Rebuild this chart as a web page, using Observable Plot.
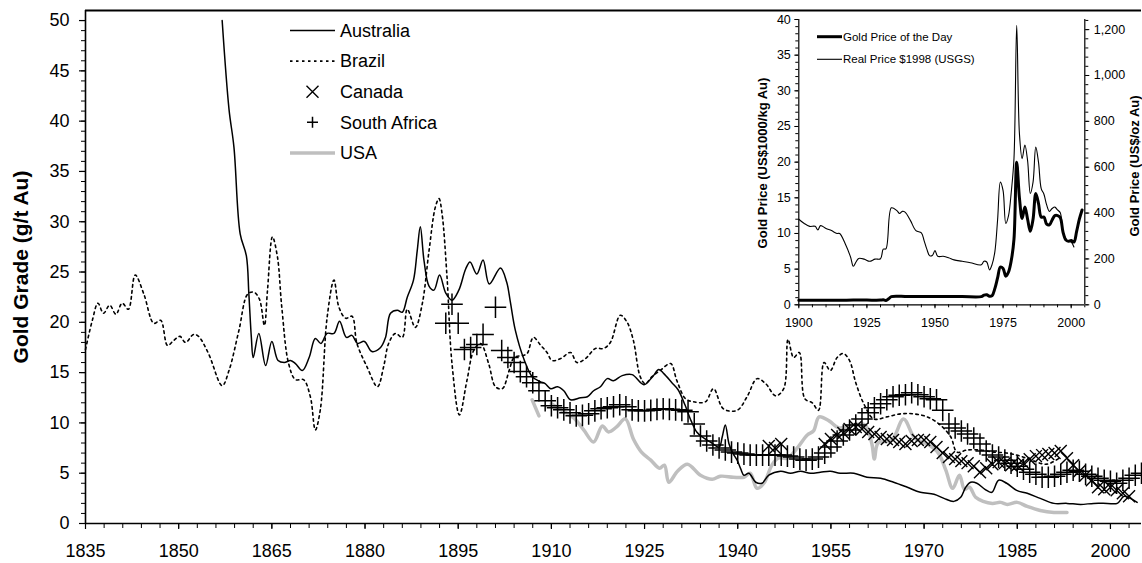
<!DOCTYPE html>
<html><head><meta charset="utf-8">
<script src="https://cdn.jsdelivr.net/npm/d3@7"></script>
<script src="https://cdn.jsdelivr.net/npm/@observablehq/plot@0.6"></script>
<style>
body{margin:0;background:#fff;}
#wrap{position:relative;width:1142px;height:563px;font-family:"Liberation Sans",Arial,sans-serif;color:#000;}
#wrap > svg{position:absolute;}
</style></head><body><div id="wrap"></div>
<script>
// ---- Main chart data: [year, gold grade g/t Au] ----
const australia = [[1857.0,50],[1858.1,41.2],[1858.9,37.4],[1859.9,28.8],[1860.9,26.6],[1861.3,22.8],[1861.7,18.5],[1862.0,16.5],[1862.9,18.9],[1864.0,15.7],[1865.0,18.1],[1866.0,16.2],[1867.0,16.0],[1868.0,16.2],[1868.8,15.9],[1869.9,15.2],[1871.0,16.5],[1872.0,18.4],[1872.9,17.9],[1873.9,18.9],[1875.0,18.9],[1875.9,20.1],[1877.0,18.5],[1877.9,18.7],[1878.8,17.9],[1879.9,18.1],[1881.1,17.1],[1882.5,17.5],[1883.3,18.5],[1884.1,20.9],[1885.2,21.2],[1886.0,21.0],[1886.8,22.5],[1887.8,24.2],[1888.4,27.1],[1888.9,29.5],[1889.5,26.1],[1890.3,23.6],[1891.1,23.2],[1892.0,24.7],[1893.0,22.9],[1894.0,22.2],[1895.1,23.2],[1896.2,25.3],[1896.9,26.0],[1898.0,24.8],[1899.0,26.2],[1900.0,23.8],[1901.8,25.4],[1902.8,24.0],[1903.4,22.0],[1904.2,19.2],[1905.6,16.3],[1906.9,14.6],[1908.2,14.1],[1909.0,13.9],[1909.9,13.4],[1911.0,13.6],[1912.0,13.2],[1913.1,12.3],[1914.7,12.5],[1915.8,12.6],[1916.8,13.2],[1917.9,13.6],[1919.0,14.4],[1920.0,14.2],[1921.4,14.7],[1923.0,14.8],[1924.9,13.8],[1926.3,14.6],[1927.3,15.3],[1928.1,14.9],[1929.4,14.0],[1930.4,13.3],[1931.5,11.8],[1932.5,10.2],[1933.4,9.1],[1934.3,8.6],[1935.6,8.1],[1937.0,7.6],[1937.5,8.6],[1938.0,9.8],[1938.6,7.9],[1939.2,7.0],[1939.9,6.3],[1940.5,5.4],[1941.0,4.8],[1941.8,5.0],[1942.9,4.1],[1943.9,4.0],[1945.0,4.8],[1946.9,5.2],[1948.5,5.0],[1950.1,5.2],[1951.7,5.0],[1953.3,5.1],[1954.9,5.2],[1956.5,5.0],[1958.7,5.0],[1960.8,4.6],[1963.0,4.5],[1965.1,4.1],[1967.3,3.6],[1969.4,3.1],[1971.6,2.9],[1973.2,2.5],[1974.8,2.2],[1975.9,2.6],[1976.7,3.6],[1977.5,4.1],[1978.5,4.0],[1979.8,3.4],[1980.9,3.1],[1982.0,4.3],[1983.3,4.0],[1984.9,3.3],[1986.6,3.0],[1988.7,2.5],[1990.9,2.0],[1993.0,2.0],[1995.2,1.9],[1997.3,2.0],[1999.5,2.0],[2001.1,2.0],[2002.2,2.7],[2003.2,2.5],[2004.3,2.1]];

const brazil = [[1835.0,17.3],[1836.1,20.2],[1837.0,21.9],[1837.9,20.9],[1838.9,21.7],[1839.9,20.8],[1840.9,21.9],[1841.9,21.3],[1843.0,24.7],[1844.4,22.8],[1846.0,19.9],[1847.1,20.2],[1848.2,17.7],[1849.2,18.2],[1850.2,18.6],[1851.1,18.0],[1852.4,18.8],[1853.2,18.6],[1854.8,16.9],[1857.0,13.7],[1858.1,15.2],[1859.7,19.2],[1861.1,22.8],[1862.1,23.0],[1863.0,22.3],[1863.8,19.7],[1864.3,23.2],[1865.1,28.5],[1865.9,26.5],[1866.6,21.5],[1867.7,15.9],[1868.8,14.3],[1870.1,14.3],[1871.2,12.6],[1872.0,9.3],[1872.8,11.3],[1873.9,20.5],[1875.0,24.2],[1875.8,21.5],[1876.9,20.4],[1877.9,20.6],[1878.7,17.9],[1880.3,15.6],[1882.0,13.6],[1883.0,15.6],[1883.8,17.9],[1884.9,18.9],[1886.0,18.5],[1886.8,21.3],[1888.1,19.5],[1889.2,21.8],[1890.3,27.1],[1891.3,31.4],[1891.9,32.3],[1892.4,30.8],[1893.2,24.5],[1894.0,15.9],[1895.2,10.8],[1896.4,14.2],[1897.5,17.2],[1898.6,17.9],[1899.9,15.9],[1901.0,13.6],[1902.1,13.4],[1903.2,15.2],[1904.0,16.5],[1905.4,16.7],[1906.1,16.9],[1907.1,18.5],[1908.3,17.7],[1909.3,17.0],[1910.1,16.2],[1911.5,16.4],[1913.1,17.0],[1914.1,16.0],[1915.5,16.4],[1917.1,17.4],[1918.4,17.4],[1919.5,18.0],[1921.1,20.7],[1922.2,20.0],[1923.2,18.2],[1924.3,14.6],[1925.1,13.9],[1926.2,14.6],[1927.5,15.2],[1929.2,15.9],[1930.2,14.2],[1931.6,12.4],[1932.9,12.1],[1934.8,12.1],[1936.1,13.4],[1937.7,11.4],[1939.9,11.25],[1941.5,12.6],[1943.1,14.4],[1944.5,13.9],[1946.1,12.7],[1947.4,13.4],[1948.1,18.3],[1949.0,16.5],[1949.9,17.0],[1950.8,12.4],[1952.0,12.0],[1953.0,11.25],[1953.9,16.0],[1954.9,15.2],[1956.0,16.5],[1957.0,16.9],[1958.0,16.2],[1959.0,14.0],[1960.3,11.9],[1961.9,10.4],[1964.0,10.6],[1966.2,10.9],[1968.3,10.9],[1970.5,10.6],[1972.6,9.8],[1974.3,8.6],[1975.3,7.1],[1976.9,7.3],[1979.1,7.3],[1981.2,7.1],[1983.4,7.0],[1985.5,6.7],[1987.7,6.2],[1989.8,5.9],[1992.0,6.6]];

const canada = [[1945,7.7],[1946,7.5],[1947,7.9],[1954,7.9],[1955,8.4],[1956,8.8],[1957,9.0],[1958,9.4],[1959,9.6],[1960,9.4],[1961,9.1],[1962,8.9],[1963,8.6],[1964,8.4],[1965,8.3],[1966,8.1],[1967,7.9],[1968,8.2],[1969,8.3],[1970,8.3],[1971,8.1],[1972,7.6],[1973,7.0],[1974,6.6],[1975,6.4],[1976,6.2],[1977,6.0],[1978,5.7],[1979,5.1],[1980,5.5],[1981,5.9],[1982,6.1],[1983,6.0],[1984,5.8],[1985,5.8],[1986,6.0],[1987,6.4],[1988,6.7],[1989,6.8],[1990,6.9],[1991,7.0],[1992,7.2],[1993,6.5],[1994,5.8],[1995,5.2],[1996,4.8],[1997,4.3],[1998,3.6],[1999,3.4],[2000,3.6],[2001,3.3],[2002,3.0],[2003,2.7]];

const southAfrica = [[1893,19.9],[1894,21.8],[1895,19.9],[1896,17.3],[1897,17.5],[1898,17.8],[1899,18.8],[1901,21.5],[1902,17.2],[1903,16.5],[1904,16.0],[1905,15.1],[1906,14.6],[1907,14.0],[1908,13.2],[1909,12.2],[1910,11.7],[1911,11.5],[1912,11.3],[1913,11.0],[1914,10.7],[1915,10.75],[1916,10.9],[1917,11.2],[1918,11.4],[1919,11.5],[1920,11.6],[1921,11.8],[1922,11.6],[1923,11.3],[1924,11.2],[1925,11.2],[1926,11.25],[1927,11.35],[1928,11.4],[1929,11.35],[1930,11.3],[1931,11.25],[1932,11.1],[1933,9.9],[1934,8.7],[1935,8.2],[1936,7.8],[1937,7.5],[1938,7.3],[1939,7.1],[1940,7.0],[1941,6.9],[1942,6.8],[1943,6.8],[1944,6.8],[1945,6.8],[1946,6.8],[1947,6.8],[1948,6.7],[1949,6.6],[1950,6.4],[1951,6.3],[1952,6.4],[1953,6.6],[1954,7.0],[1955,7.6],[1956,8.2],[1957,8.8],[1958,9.3],[1959,9.8],[1960,10.4],[1961,11.0],[1962,11.5],[1963,11.9],[1964,12.3],[1965,12.6],[1966,12.75],[1967,12.8],[1968,13.0],[1969,12.8],[1970,12.6],[1971,12.4],[1972,12.3],[1973,11.25],[1974,9.9],[1975,9.5],[1976,9.2],[1977,8.9],[1978,8.5],[1979,7.9],[1980,7.2],[1981,6.8],[1982,6.6],[1983,6.3],[1984,6.0],[1985,5.7],[1986,5.4],[1987,5.1],[1988,4.9],[1989,4.6],[1990,4.6],[1991,4.7],[1992,4.9],[1993,5.1],[1994,5.3],[1995,5.2],[1996,4.9],[1997,4.7],[1998,4.5],[1999,4.3],[2000,4.2],[2001,4.0],[2002,4.3],[2003,4.5],[2004,4.8],[2005,5.0]];

const usa = [[1906.9,12.3],[1908.0,10.7],[1909.0,NaN],[1910.0,11.9],[1911.5,11.3],[1913.6,10.5],[1915.2,9.3],[1916.8,8.1],[1918.2,9.7],[1919.2,9.1],[1920.5,9.6],[1921.9,10.4],[1923.2,8.4],[1924.5,7.1],[1926.0,6.3],[1927.4,5.5],[1928.2,5.8],[1928.9,4.1],[1930.3,5.2],[1931.9,5.9],[1934.0,4.8],[1935.9,4.4],[1937.2,4.7],[1939.3,4.6],[1941.0,4.6],[1942.0,5.0],[1943.1,3.5],[1944.2,4.0],[1945.5,5.8],[1946.5,6.5],[1948.0,6.5],[1949.7,7.6],[1951.2,8.8],[1952.2,9.2],[1953.1,10.6],[1954.7,10.2],[1956.3,9.5],[1958.5,9.8],[1960.5,9.8],[1961.6,7.9],[1962.0,6.4],[1962.6,8.0],[1964.8,8.3],[1966.7,10.4],[1968.5,8.5],[1970.8,7.8],[1972.3,7.0],[1973.5,5.3],[1974.6,3.5],[1975.7,4.8],[1976.5,3.4],[1977.3,3.6],[1978.3,2.6],[1979.5,2.2],[1981.0,2.0],[1982.3,2.1],[1983.4,1.9],[1985.0,2.1],[1986.6,1.7],[1988.7,1.3],[1990.9,1.1],[1993.0,1.1]];

const gradeTicks = [0,5,10,15,20,25,30,35,40,45,50];
const yearTicks = [1835,1850,1865,1880,1895,1910,1925,1940,1955,1970,1985,2000];

// ---- Inset data: [year, US$1000/kg Au] ----
const priceOfDay = [[1900,0.65],[1905,0.65],[1910,0.65],[1915,0.65],[1920,0.66],[1925,0.66],[1930,0.66],[1931,0.7],[1932,0.6],[1933,0.85],[1934,1.15],[1940,1.15],[1950,1.15],[1960,1.15],[1967,1.15],[1968,1.35],[1969,1.4],[1970,1.2],[1971,1.3],[1972,2.3],[1973,3.8],[1974,5.3],[1975,5.1],[1976,4.0],[1977,4.6],[1978,6.2],[1979,9.2],[1980,20.0],[1981,15.0],[1982,12.1],[1983,13.7],[1984,12.0],[1985,10.3],[1986,12.0],[1987,15.6],[1988,14.2],[1989,12.3],[1990,12.3],[1991,11.3],[1992,11.2],[1993,11.9],[1994,12.5],[1995,12.5],[1996,12.2],[1997,10.2],[1998,9.1],[1999,8.9],[2000,9.0],[2001,8.8],[2002,10.3],[2003,12.0],[2004,13.3]];
const realPrice1998 = [[1900,12.0],[1902,11.4],[1904,11.0],[1906,11.0],[1907,10.5],[1908,11.1],[1910,10.7],[1912,10.4],[1914,10.0],[1915,10.0],[1917,8.6],[1919,6.7],[1920,5.4],[1921,6.0],[1922,6.5],[1924,6.4],[1926,6.1],[1928,6.4],[1930,6.45],[1931,7.8],[1932,7.85],[1934,13.6],[1936,13.2],[1937,12.8],[1938,13.1],[1939,13.0],[1941,11.8],[1943,10.4],[1945,10.1],[1946,9.0],[1947,7.8],[1948,6.9],[1949,6.9],[1950,7.6],[1951,6.8],[1953,6.8],[1955,6.6],[1957,6.3],[1960,6.1],[1963,5.9],[1967,5.6],[1968,6.1],[1969,6.0],[1970,4.9],[1971,5.7],[1972,7.5],[1973,12.0],[1974,17.2],[1975,16.0],[1976,11.4],[1977,12.5],[1978,15.8],[1979,20.5],[1980,39.2],[1981,24.0],[1982,20.5],[1983,22.4],[1984,20.2],[1985,15.6],[1986,17.2],[1987,22.1],[1988,20.0],[1989,16.3],[1990,15.5],[1991,14.0],[1992,13.1],[1993,13.5],[1994,13.7],[1995,13.3],[1996,12.9],[1997,10.2],[1998,9.3],[1999,8.9],[2000,8.8],[2001,8.1]];
const insetKgTicks = [0,5,10,15,20,25,30,35,40];
const insetOzTicks = [0,200,400,600,800,1000,1200];
const insetYearTicks = [1900,1925,1950,1975,2000];
const OZ_PER_KG = 32.1507;

const legendMain = ["Australia","Brazil","Canada","South Africa","USA"];
const legendInset = ["Gold Price of the Day","Real Price $1998 (USGS)"];

const rows = arr => arr.map(([year, v]) => ({year, v}));
const FONT = "Liberation Sans, Arial, sans-serif";
const wrap = document.getElementById("wrap");

const main = Plot.plot({
  width: 1142, height: 563,
  marginLeft: 85, marginRight: 1, marginTop: 10, marginBottom: 40,
  x: {domain: [1835, 2005], label: null},
  y: {domain: [0, 51], label: null},
  style: {fontFamily: FONT, fontSize: "18px", color: "#000", background: "transparent", overflow: "visible"},
  marks: [
    Plot.axisY(d3.range(0, 51, 1), {tickSize: 4, tickFormat: () => "", label: null, strokeWidth: 1}),
    Plot.axisY(gradeTicks, {tickSize: 6, tickPadding: 10, label: null, strokeWidth: 1.2, fontSize: 18}),
    Plot.axisX(d3.range(1835, 2006, 3), {tickSize: 5, tickFormat: () => "", label: null, strokeWidth: 1}),
    Plot.axisX(yearTicks, {tickSize: 6, tickPadding: 15, tickFormat: d => String(d), label: null, strokeWidth: 1.2, fontSize: 18}),
    Plot.ruleX([1835], {stroke: "#000", strokeWidth: 1.6}),
    Plot.ruleY([0], {stroke: "#000", strokeWidth: 1.6}),
    Plot.ruleY([51], {stroke: "#000", strokeWidth: 2}),
    Plot.line(rows(usa), {x: "year", y: "v", stroke: "#bfbfbf", strokeWidth: 3.5, curve: "catmull-rom"}),
    Plot.line(rows(brazil), {x: "year", y: "v", stroke: "#000", strokeWidth: 1.6, strokeDasharray: "2.5,3.5", curve: "catmull-rom"}),
    Plot.line(rows(australia), {x: "year", y: "v", stroke: "#000", strokeWidth: 1.5, curve: "catmull-rom"}),
    Plot.dot(rows(southAfrica), {x: "year", y: "v", symbol: "plus", r: 7, stroke: "#000", strokeWidth: 1.5}),
    Plot.dot(rows(canada), {x: "year", y: "v", symbol: "times", r: 5.5, stroke: "#000", strokeWidth: 1.4})
  ]
});
main.style.left = "0px"; main.style.top = "0px";
wrap.appendChild(main);

const kgToOzLabel = d => d3.format(",")(Math.round(d * 1000 / OZ_PER_KG));
const inset = Plot.plot({
  width: 402, height: 330,
  marginLeft: 58.3, marginRight: 57.7, marginTop: 9, marginBottom: 35.7,
  x: {domain: [1900, 2005], label: null},
  y: {domain: [0, 40], label: null},
  style: {fontFamily: FONT, fontSize: "12.5px", color: "#000", background: "transparent", overflow: "visible"},
  marks: [
    Plot.axisY(d3.range(0, 41, 1), {anchor: "left", tickSize: 3, tickFormat: () => "", label: null}),
    Plot.axisY(insetKgTicks, {anchor: "left", tickSize: 4, tickPadding: 4, label: null}),
    Plot.axisY(d3.range(0, 1241, 40).map(d => d * OZ_PER_KG / 1000), {anchor: "right", tickSize: 3, tickFormat: () => "", label: null}),
    Plot.axisY(insetOzTicks.map(d => d * OZ_PER_KG / 1000), {anchor: "right", tickSize: 4, tickPadding: 5, tickFormat: kgToOzLabel, label: null}),
    Plot.axisX(d3.range(1900, 2006, 5), {tickSize: 3, tickFormat: () => "", label: null}),
    Plot.axisX(insetYearTicks, {tickSize: 4, tickPadding: 9, tickFormat: d => String(d), label: null}),
    Plot.ruleX([1900], {stroke: "#000", strokeWidth: 1.2}),
    Plot.ruleX([2005], {stroke: "#000", strokeWidth: 1.2}),
    Plot.ruleY([0], {stroke: "#000", strokeWidth: 1.2}),
    Plot.line(rows(realPrice1998), {x: "year", y: "v", stroke: "#000", strokeWidth: 1.1, curve: "catmull-rom"}),
    Plot.line(rows(priceOfDay), {x: "year", y: "v", stroke: "#000", strokeWidth: 3, curve: "catmull-rom"})
  ]
});
inset.style.left = "740px"; inset.style.top = "10px";
wrap.appendChild(inset);

// ---- Overlay: legends and axis titles (real text) ----
const ov = d3.select(wrap).append("svg")
  .attr("width", 1142).attr("height", 563)
  .style("left", "0px").style("top", "0px").style("pointer-events", "none")
  .attr("font-family", FONT);

// main legend
const lx0 = 290, lx1 = 335, ltx = 340, ly0 = 30.5, lstep = 30.6;
legendMain.forEach((name, i) => {
  const y = ly0 + i * lstep, cx = (lx0 + lx1) / 2;
  const g = ov.append("g");
  if (name === "Australia") g.append("line").attr("x1", lx0).attr("x2", lx1).attr("y1", y).attr("y2", y).attr("stroke", "#000").attr("stroke-width", 1.5);
  if (name === "Brazil") g.append("line").attr("x1", lx0).attr("x2", lx1).attr("y1", y).attr("y2", y).attr("stroke", "#000").attr("stroke-width", 1.6).attr("stroke-dasharray", "2.5,3.5");
  if (name === "USA") g.append("line").attr("x1", lx0).attr("x2", lx1).attr("y1", y).attr("y2", y).attr("stroke", "#bfbfbf").attr("stroke-width", 3.5);
  if (name === "Canada") g.append("path").attr("d", `M${cx-6},${y-6}L${cx+6},${y+6}M${cx-6},${y+6}L${cx+6},${y-6}`).attr("stroke", "#000").attr("stroke-width", 1.4);
  if (name === "South Africa") g.append("path").attr("d", `M${cx-5.5},${y}L${cx+5.5},${y}M${cx},${y-5.5}L${cx},${y+5.5}`).attr("stroke", "#000").attr("stroke-width", 1.5);
  g.append("text").attr("x", ltx).attr("y", y).attr("dy", "0.35em").attr("font-size", 18).text(name);
});

// inset legend
const ix0 = 817, ix1 = 842, itx = 843, iy0 = 36.7, istep = 22.6;
legendInset.forEach((name, i) => {
  const y = iy0 + i * istep;
  ov.append("line").attr("x1", ix0).attr("x2", ix1).attr("y1", y).attr("y2", y).attr("stroke", "#000").attr("stroke-width", i === 0 ? 3 : 1.1);
  ov.append("text").attr("x", itx).attr("y", y).attr("dy", "0.35em").attr("font-size", 11.5).text(name);
});

// axis titles
const title = (x, y, size, txt) => ov.append("text")
  .attr("transform", `translate(${x},${y}) rotate(-90)`)
  .attr("text-anchor", "middle").attr("dy", "0.35em")
  .attr("font-weight", "bold").attr("font-size", size).text(txt);
title(21, 267, 21, "Gold Grade (g/t Au)");
title(762, 163, 13, "Gold Price (US$1000/kg Au)");
title(1134, 166, 13, "Gold Price (US$/oz Au)");
</script></body></html>
